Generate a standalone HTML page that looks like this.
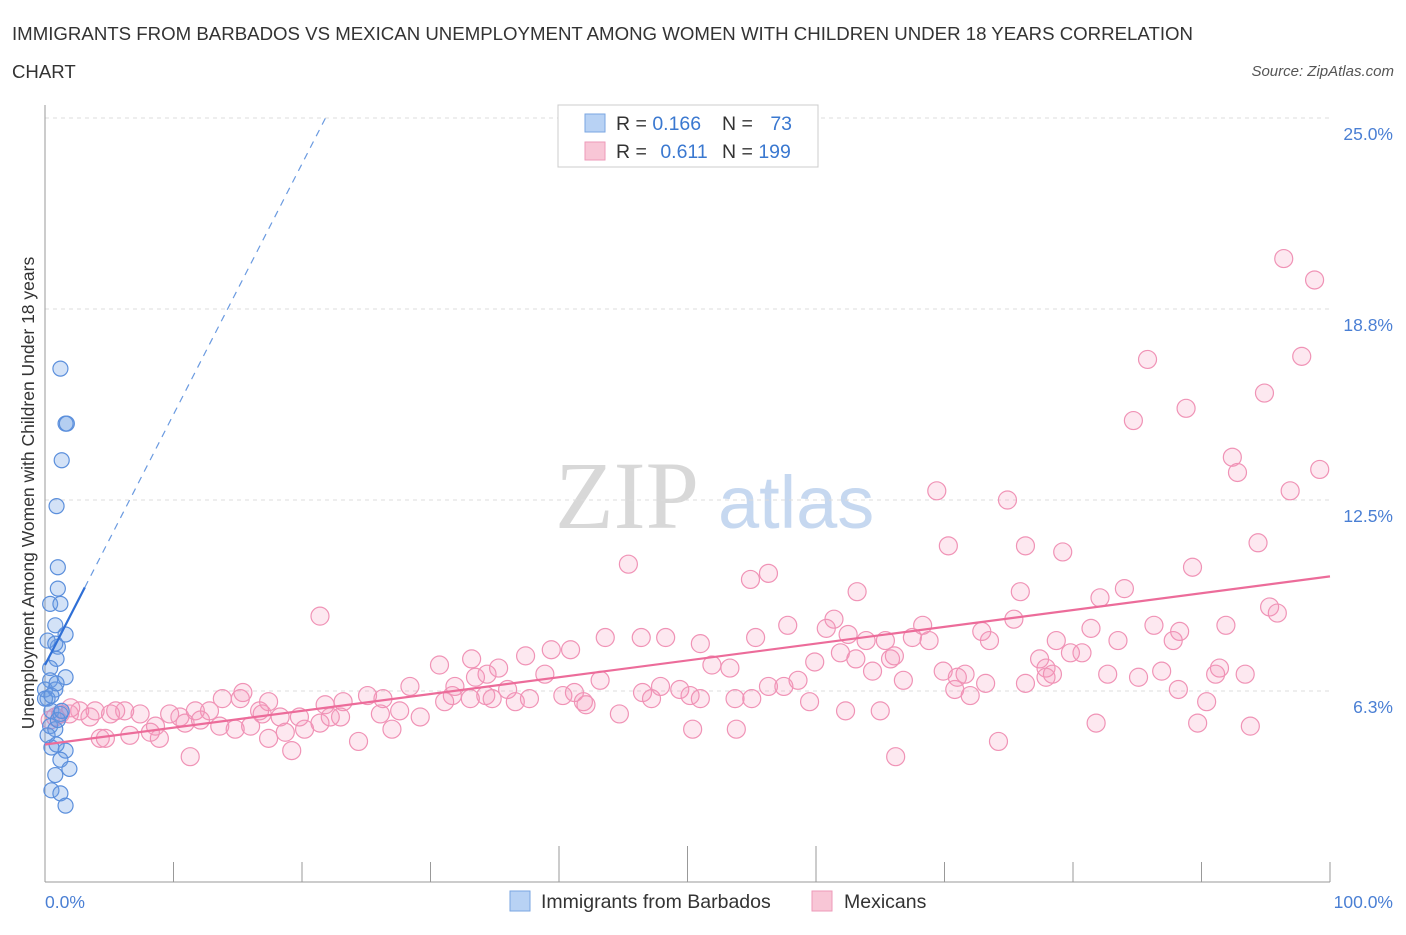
<!DOCTYPE html>
<html><head><meta charset="utf-8">
<style>
body{margin:0;background:#fff;font-family:"Liberation Sans",sans-serif;}
svg text{font-family:"Liberation Sans",sans-serif;}
</style></head>
<body>
<svg id="chart" width="1406" height="930" viewBox="0 0 1406 930">
<text x="12" y="40" font-size="18.6" fill="#333" textLength="1181" lengthAdjust="spacingAndGlyphs">IMMIGRANTS FROM BARBADOS VS MEXICAN UNEMPLOYMENT AMONG WOMEN WITH CHILDREN UNDER 18 YEARS CORRELATION</text>
<text x="12" y="78" font-size="18.6" fill="#333">CHART</text>
<text x="1394" y="76" font-size="15" fill="#555" font-style="italic" text-anchor="end">Source: ZipAtlas.com</text>
<text x="555" y="528" font-size="96" fill="#d8d8d8" style="font-family:'Liberation Serif',serif">ZIP</text>
<text x="718" y="528" font-size="74" fill="#c6d8f0">atlas</text>
<g id="grid"></g>
<g id="axes"></g>
<g id="marks"></g>
<text transform="translate(34,493) rotate(-90)" font-size="17.5" fill="#333" text-anchor="middle">Unemployment Among Women with Children Under 18 years</text>
<text x="45" y="908" font-size="17.5" fill="#4a7fd4">0.0%</text>
<text x="1393" y="908" font-size="17.5" fill="#4a7fd4" text-anchor="end">100.0%</text>
<g>
<rect x="558" y="105" width="260" height="62" fill="#fff" stroke="#ccc"/>
<rect x="585" y="114" width="20" height="18" fill="#b8d2f4" stroke="#7aa6e2"/>
<rect x="585" y="142" width="20" height="18" fill="#f8c6d6" stroke="#ee9ab8"/>
<text x="616" y="130" font-size="19.5" fill="#333">R = <tspan fill="#3a78d0">0.166</tspan></text>
<text x="722" y="130" font-size="19.5" fill="#333">N = <tspan fill="#3a78d0" dx="12">73</tspan></text>
<text x="616" y="158" font-size="19.5" fill="#333">R = <tspan fill="#3a78d0" dx="8">0.611</tspan></text>
<text x="722" y="158" font-size="19.5" fill="#333">N = <tspan fill="#3a78d0">199</tspan></text>
</g>
<g>
<rect x="510" y="891" width="20" height="20" fill="#b8d2f4" stroke="#7aa6e2"/>
<text x="541" y="908" font-size="19.5" fill="#333">Immigrants from Barbados</text>
<rect x="812" y="891" width="20" height="20" fill="#f8c6d6" stroke="#ee9ab8"/>
<text x="844" y="908" font-size="19.5" fill="#333">Mexicans</text>
</g>
</svg>
<script>
const yTicks=[6.25,12.5,18.75,25];
const yTickLabels=["6.3%","12.5%","18.8%","25.0%"];
const xTicks=[0,10,20,30,40,50,60,70,80,90,100];
const pinkX=[21.4,45.4,54.9,56.3,63.2,69.4,70.3,74.9,76.3,79.2,75.9,85.8,84.7,88.8,94.9,97.8,96.4,98.8,92.4,92.8,96.9,99.2,94.4,89.3,84.0,82.1,95.3,95.9,91.9,88.3,87.8,86.3,83.5,81.4,78.7,80.7,77.4,77.9,75.4,73.5,72.9,67.5,68.8,68.3,65.4,63.9,62.5,61.4,60.8,61.9,57.8,55.3,51.0,48.3,46.4,43.6,40.9,39.4,37.4,35.3,33.2,30.7,33.5,34.4,36.0,34.3,31.7,28.4,26.3,25.1,23.2,21.8,19.8,18.3,16.9,15.2,13.8,12.8,11.7,10.5,9.7,8.6,7.4,6.2,5.1,3.9,2.7,1.9,1.2,0.8,0.4,4.3,6.6,8.9,10.9,12.1,13.6,14.8,16.0,17.4,18.7,19.2,20.2,21.4,23.0,24.4,26.1,27.0,27.6,29.2,31.1,31.9,33.1,34.8,36.6,37.7,38.9,40.3,41.2,41.9,43.2,44.7,46.5,47.2,47.9,49.4,50.2,51.0,51.9,53.3,53.7,55.0,56.3,57.5,58.6,59.5,59.9,62.3,63.1,64.4,65.0,65.8,66.1,66.8,66.2,69.9,70.8,71.6,72.0,71.0,73.2,74.2,76.3,77.9,78.4,79.8,81.8,82.7,85.1,86.9,88.2,89.7,90.4,91.1,91.4,93.4,93.8,53.8,50.4,42.1,11.3,4.7,8.2,17.4,15.4,16.7,22.2,2.0,3.5,5.5];
const pinkY=[8.7,10.4,9.9,10.1,9.5,12.8,11.0,12.5,11.0,10.8,9.5,17.1,15.1,15.5,16.0,17.2,20.4,19.7,13.9,13.4,12.8,13.5,11.1,10.3,9.6,9.3,9.0,8.8,8.4,8.2,7.9,8.4,7.9,8.3,7.9,7.5,7.3,7.0,8.6,7.9,8.2,8.0,7.9,8.4,7.9,7.9,8.1,8.6,8.3,7.5,8.4,8.0,7.8,8.0,8.0,8.0,7.6,7.6,7.4,7.0,7.3,7.1,6.7,6.8,6.3,6.1,6.1,6.4,6.0,6.1,5.9,5.8,5.4,5.4,5.5,6.0,6.0,5.6,5.6,5.4,5.5,5.1,5.5,5.6,5.5,5.6,5.6,5.5,5.5,5.4,5.3,4.7,4.8,4.7,5.2,5.3,5.1,5.0,5.1,4.7,4.9,4.3,5.0,5.2,5.4,4.6,5.5,5.0,5.6,5.4,5.9,6.4,6.0,6.0,5.9,6.0,6.8,6.1,6.2,5.9,6.6,5.5,6.2,6.0,6.4,6.3,6.1,6.0,7.1,7.0,6.0,6.0,6.4,6.4,6.6,5.9,7.2,5.6,7.3,6.9,5.6,7.3,7.4,6.6,4.1,6.9,6.3,6.8,6.1,6.7,6.5,4.6,6.5,6.7,6.8,7.5,5.2,6.8,6.7,6.9,6.3,5.2,5.9,6.8,7.0,6.8,5.1,5.0,5.0,5.8,4.1,4.7,4.9,5.9,6.2,5.6,5.4,5.7,5.4,5.6];
const blueX=[1.2,1.6,1.3,0.9,1.0,1.0,0.4,1.2,0.8,1.6,1.0,0.9,0.4,1.6,0.4,0.8,0.2,0.5,1.2,0.4,0.8,0.5,1.6,1.2,1.9,0.8,0.5,1.2,1.6,0.2,0.8,0,0,1.0,1.3,0.2,0.9,0.5,0.9,1.7];
const blueY=[16.8,15.0,13.8,12.3,10.3,9.6,9.1,9.1,8.4,8.1,7.7,7.3,7.0,6.7,6.6,6.3,6.0,5.6,5.5,5.1,5.0,4.4,4.3,4.0,3.7,3.5,3.0,2.9,2.5,7.9,7.8,6.3,6.0,5.3,5.6,4.8,4.5,6.1,6.5,15.0];
const pinkTrend=[4.5,10.0];
const blueTrend=[7.1,0.82];
const NS="http://www.w3.org/2000/svg";
const X=v=>45+v*12.85;
const Y=v=>882-v*30.56;
function mk(tag,attrs,parent){const e=document.createElementNS(NS,tag);for(const k in attrs)e.setAttribute(k,attrs[k]);parent.appendChild(e);return e;}
const grid=document.getElementById('grid'),axes=document.getElementById('axes'),marks=document.getElementById('marks');
yTicks.forEach((t,i)=>{
 const l=mk('line',{x1:45,x2:1330,y1:Y(t),y2:Y(t),stroke:'#ddd','stroke-dasharray':'4,4'},grid);
 
 
 const tx=mk('text',{x:1393,y:Y(t)+22,'font-size':17.5,fill:'#4a7fd4','text-anchor':'end'},axes);
 tx.textContent=yTickLabels[i];
 
 
});
const ya=mk('line',{x1:45,x2:45,y1:105,y2:882,stroke:'#999'},axes);


const xa=mk('line',{x1:45,x2:1330,y1:882,y2:882,stroke:'#999'},axes);


xTicks.forEach(t=>{
 const l=mk('line',{x1:X(t),x2:X(t),y1:882,y2:(t>=40&&t<=60)?846:862,stroke:'#999'},axes);
 
 
});
pinkX.forEach((x,i)=>{
 const c=mk('circle',{cx:X(x),cy:Y(pinkY[i]),r:9,fill:'rgba(244,150,185,0.22)',stroke:'#f093b6','stroke-width':1.2},marks);
 
 
});
blueX.forEach((x,i)=>{
 const c=mk('circle',{cx:X(x),cy:Y(blueY[i]),r:7.5,fill:'rgba(110,160,230,0.3)',stroke:'#5b8fdc','stroke-width':1.2},marks);
 
 
});
const pl=mk('line',{x1:X(0),y1:Y(pinkTrend[0]),x2:X(100),y2:Y(pinkTrend[1]),stroke:'#ec6c9a','stroke-width':2.2},marks);


const bEnd=3.1, bTop=(25-blueTrend[0])/blueTrend[1];
const bl=mk('line',{x1:X(0),y1:Y(blueTrend[0]),x2:X(bEnd),y2:Y(blueTrend[0]+blueTrend[1]*bEnd),stroke:'#2f6fd6','stroke-width':2.2},marks);


const bd=mk('line',{x1:X(bEnd),y1:Y(blueTrend[0]+blueTrend[1]*bEnd),x2:X(bTop),y2:Y(25),stroke:'#6a9ae0','stroke-width':1.2,'stroke-dasharray':'7,6'},marks);


</script>
</body></html>
